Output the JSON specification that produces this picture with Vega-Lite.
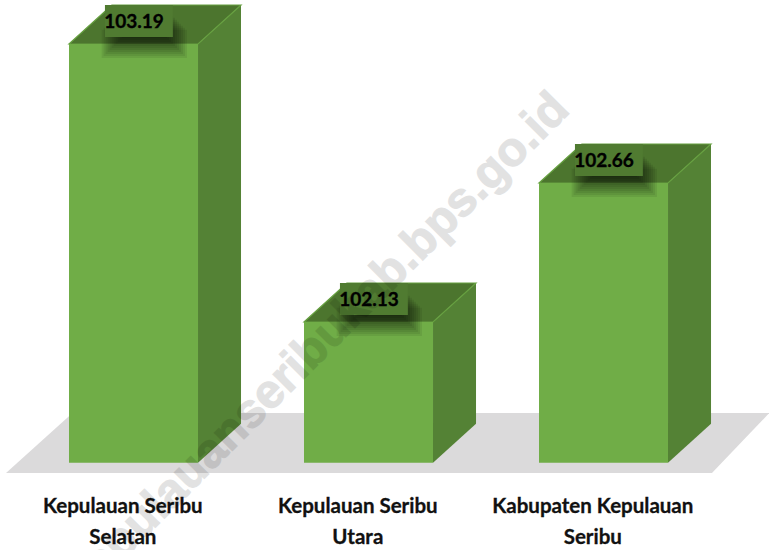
{
"$schema":"https://vega.github.io/schema/vega-lite/v6.json",
"width":769,"height":550,"padding":0,"autosize":{"type":"none"},
"background":"white",
"view":{"stroke":null},
"config":{"axis":{"disable":true}},
"data":{"values":[
{"region":"Kepulauan Seribu Selatan","name":"Kepulauan Seribu\nSelatan","ipm":103.19,"slot":0},
{"region":"Kepulauan Seribu Utara","name":"Kepulauan Seribu\nUtara","ipm":102.13,"slot":1},
{"region":"Kabupaten Kepulauan Seribu","name":"Kabupaten Kepulauan\nSeribu","ipm":102.66,"slot":2}
]},
"transform":[
{"calculate":"[0,1]","as":"corner"},
{"flatten":["corner"]},
{"calculate":"datum.ipm+datum.corner*0.1487","as":"topLevel"},
{"calculate":"101.593+datum.corner*0.1487","as":"baseLevel"},
{"calculate":"datum.slot+datum.corner*0.183","as":"leftEdge"},
{"calculate":"datum.leftEdge+0.549","as":"rightEdge"}
],
"layer":[
{"data":{"values":[{"left":-0.268,"right":2.736,"level":101.5542},{"left":0.015,"right":2.98,"level":101.783}]},
 "transform":[{"calculate":"1","as":"one"}],
 "mark":{"type":"area","orient":"horizontal","fill":"#dbdadb"},
 "encoding":{
  "x":{"field":"left","type":"quantitative","scale":{"domain":[-0.2936,2.9787],"nice":false,"zero":false}},
  "x2":{"field":"right"},
  "y":{"field":"level","type":"quantitative","scale":{"domain":[101.2606,103.3578],"nice":false,"zero":false}}
 }},
{"mark":{"type":"area","fill":"#548235"},
 "encoding":{
  "detail":{"field":"region"},
  "x":{"field":"rightEdge","type":"quantitative","scale":{"domain":[-0.2936,2.9787],"nice":false,"zero":false}},
  "y":{"field":"topLevel","type":"quantitative","scale":{"domain":[101.2606,103.3578],"nice":false,"zero":false}},
  "y2":{"field":"baseLevel"}
 }},
{"mark":{"type":"area","orient":"horizontal","fill":"#4c752e","stroke":"#66a040","strokeWidth":1.2},
 "encoding":{
  "detail":{"field":"region"},
  "x":{"field":"leftEdge","type":"quantitative","scale":{"domain":[-0.2936,2.9787],"nice":false,"zero":false}},
  "x2":{"field":"rightEdge"},
  "y":{"field":"topLevel","type":"quantitative","scale":{"domain":[101.2606,103.3578],"nice":false,"zero":false}}
 }},
{"transform":[{"filter":"datum.corner==0"},{"calculate":"datum.slot+0.549","as":"frontRight"},{"calculate":"101.593","as":"frontBase"}],
 "mark":{"type":"rect","fill":"#70ad47"},
 "encoding":{
  "x":{"field":"slot","type":"quantitative","scale":{"domain":[-0.2936,2.9787],"nice":false,"zero":false}},
  "x2":{"field":"frontRight"},
  "y":{"field":"ipm","type":"quantitative","scale":{"domain":[101.2606,103.3578],"nice":false,"zero":false}},
  "y2":{"field":"frontBase"}
 }},
{"transform":[{"filter":"datum.corner==0"},
 {"calculate":"[-12,-10,-8,-6,-4,-2,0,2,4,6,8,10,12]","as":"blur"},{"flatten":["blur"]},
 {"calculate":"datum.slot+0.19-datum.blur/235","as":"sl"},
 {"calculate":"datum.slot+0.451+datum.blur/235","as":"sr"},
 {"calculate":"datum.ipm+0.1-datum.blur/262.26","as":"st"},
 {"calculate":"datum.ipm+0.0-(datum.blur+2)/262.26","as":"sb"}],
 "mark":{"type":"rect","fill":"#000","opacity":0.075},
 "encoding":{
  "x":{"field":"sl","type":"quantitative","scale":{"domain":[-0.2936,2.9787],"nice":false,"zero":false}},
  "x2":{"field":"sr"},
  "y":{"field":"st","type":"quantitative","scale":{"domain":[101.2606,103.3578],"nice":false,"zero":false}},
  "y2":{"field":"sb"}
 }},
{"transform":[{"filter":"datum.corner==0"},
 {"calculate":"datum.slot+0.153","as":"bl"},
 {"calculate":"datum.slot+0.442","as":"br"},
 {"calculate":"datum.ipm+0.1487","as":"bt"},
 {"calculate":"datum.ipm+0.0267","as":"bb"}],
 "mark":{"type":"rect","fill":"#507b31"},
 "encoding":{
  "x":{"field":"bl","type":"quantitative","scale":{"domain":[-0.2936,2.9787],"nice":false,"zero":false}},
  "x2":{"field":"br"},
  "y":{"field":"bt","type":"quantitative","scale":{"domain":[101.2606,103.3578],"nice":false,"zero":false}},
  "y2":{"field":"bb"}
 }},
{"transform":[{"filter":"datum.corner==0"},
 {"calculate":"datum.slot+0.15","as":"tx"},
 {"calculate":"datum.ipm+0.0877","as":"ty"},
 {"calculate":"format(datum.ipm,'.2f')","as":"valueText"}],
 "mark":{"type":"text","align":"left","baseline":"middle","font":"Lato","fontWeight":"bold","fontSize":19,"fill":"#000","stroke":"#000","strokeWidth":0.35,"dy":1},
 "encoding":{
  "x":{"field":"tx","type":"quantitative","scale":{"domain":[-0.2936,2.9787],"nice":false,"zero":false}},
  "y":{"field":"ty","type":"quantitative","scale":{"domain":[101.2606,103.3578],"nice":false,"zero":false}},
  "text":{"field":"valueText"}
 }},
{"transform":[{"filter":"datum.corner==0"},
 {"calculate":"datum.slot+0.229","as":"cx"},
 {"calculate":"101.593-0.19","as":"cy"}],
 "mark":{"type":"text","align":"center","baseline":"alphabetic","font":"Lato","fontWeight":"bold","fontSize":20.5,"fill":"#111","stroke":"#111","strokeWidth":0.3,"lineBreak":"\n","lineHeight":31},
 "encoding":{
  "x":{"field":"cx","type":"quantitative","scale":{"domain":[-0.2936,2.9787],"nice":false,"zero":false}},
  "y":{"field":"cy","type":"quantitative","scale":{"domain":[101.2606,103.3578],"nice":false,"zero":false}},
  "text":{"field":"name"}
 }},
{"data":{"values":[{"mark":"kepulauanseribukab.bps.go.id","along":2.095,"level":102.97}]},
 "mark":{"type":"text","align":"right","baseline":"middle","angle":-45,"font":"Liberation Sans","fontWeight":"bold","fontSize":48,"fill":"#000","stroke":"#000","strokeWidth":1.2,"opacity":0.11},
 "encoding":{
  "x":{"field":"along","type":"quantitative","scale":{"domain":[-0.2936,2.9787],"nice":false,"zero":false}},
  "y":{"field":"level","type":"quantitative","scale":{"domain":[101.2606,103.3578],"nice":false,"zero":false}},
  "text":{"field":"mark"}
 }}
]
}
